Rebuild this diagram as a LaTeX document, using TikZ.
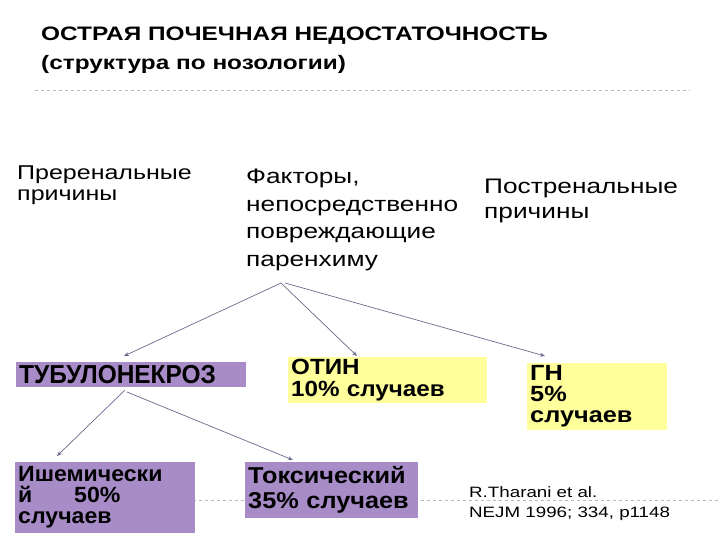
\documentclass[tikz,border=0pt]{standalone}
\usepackage{fontspec}
\setmainfont{Liberation Sans}
\newfontfamily\wideA[FakeStretch=1.25]{Liberation Sans}
\newfontfamily\bxA[FakeStretch=0.94]{Liberation Sans}
\newfontfamily\bxB[FakeStretch=1.05]{Liberation Sans}
\newfontfamily\bxC[FakeStretch=1.1]{Liberation Sans}
\newfontfamily\bxD[FakeStretch=1.15]{Liberation Sans}
\usetikzlibrary{arrows.meta}
\definecolor{purp}{HTML}{A88CC8}
\definecolor{yel}{HTML}{FFFF9C}
\definecolor{arrc}{HTML}{6A6A8E}
\definecolor{rulec}{HTML}{B8B8B8}
\begin{document}
\begin{tikzpicture}[x=1pt,y=-1pt,
  plain/.style={anchor=north west,inner sep=0pt,align=left},
  cbox/.style={anchor=north west,inner xsep=3pt,inner ysep=1pt,align=left},
  conn/.style={draw=arrc,line width=0.7pt,-{Stealth[length=5pt,width=4pt]}},
  rulel/.style={draw=rulec,dashed,line width=0.8pt}]
\useasboundingbox (0,0) rectangle (720,540);
\fill[white] (0,0) rectangle (720,540);
% title
\node[plain,font=\wideA\bfseries\fontsize{19.5}{29}\selectfont] (title) at (41,27)
  {ОСТРАЯ ПОЧЕЧНАЯ НЕДОСТАТОЧНОСТЬ\\(структура по нозологии)};
\draw[rulel] (35,90) -- (690,90);
\draw[rulel] (145,500) -- (720,500);
% top labels
\node[plain,font=\wideA\fontsize{20}{21}\selectfont] (prer) at (17,166)
  {Преренальные\\причины};
\node[plain,font=\wideA\fontsize{21}{27.5}\selectfont] (fact) at (246,169)
  {Факторы,\\непосредственно\\повреждающие\\паренхиму};
\node[plain,font=\wideA\fontsize{21}{25}\selectfont] (post) at (484,179)
  {Постренальные\\причины};
% boxes
\node[cbox,fill=purp,text width=224pt,minimum height=25pt,
  font=\bxA\bfseries\fontsize{26}{26}\selectfont] (tub) at (16,362)
  {ТУБУЛОНЕКРОЗ};
\node[cbox,fill=yel,text width=193pt,minimum height=46pt,
  font=\bxC\bfseries\fontsize{22}{22}\selectfont] (otin) at (288,357)
  {ОТИН\\10\% случаев};
\node[cbox,fill=yel,text width=134pt,minimum height=67pt,
  font=\bxD\bfseries\fontsize{22}{21}\selectfont] (gn) at (527,363)
  {ГН\\5\%\\случаев};
\node[cbox,fill=purp,text width=174pt,minimum height=71pt,
  font=\bxB\bfseries\fontsize{22}{21}\selectfont] (ish) at (15,462)
  {Ишемически\\й\hspace{1.9em}50\%\\случаев};
\node[cbox,fill=purp,text width=167pt,minimum height=56pt,
  font=\bxC\bfseries\fontsize{23}{25}\selectfont] (tox) at (245,462)
  {Токсический\\35\% случаев};
\node[plain,font=\wideA\fontsize{15}{20}\selectfont] (ref) at (469,486)
  {R.Tharani et al.\\NEJM 1996; 334, p1148};
% connectors
\coordinate (fa) at (281,283);
\coordinate (fb) at (285,283);
\coordinate (ta) at (124,356);
\coordinate (tb) at (357,356);
\coordinate (tc) at (545,356);
\coordinate (ua) at (125,390);
\coordinate (ub) at (127,392);
\coordinate (va) at (57,456);
\coordinate (vb) at (293,460);
\draw[conn] (fa) -- (ta);
\draw[conn] (fa) -- (tb);
\draw[conn] (fb) -- (tc);
\draw[conn] (ua) -- (va);
\draw[conn] (ub) -- (vb);
\end{tikzpicture}
\end{document}
